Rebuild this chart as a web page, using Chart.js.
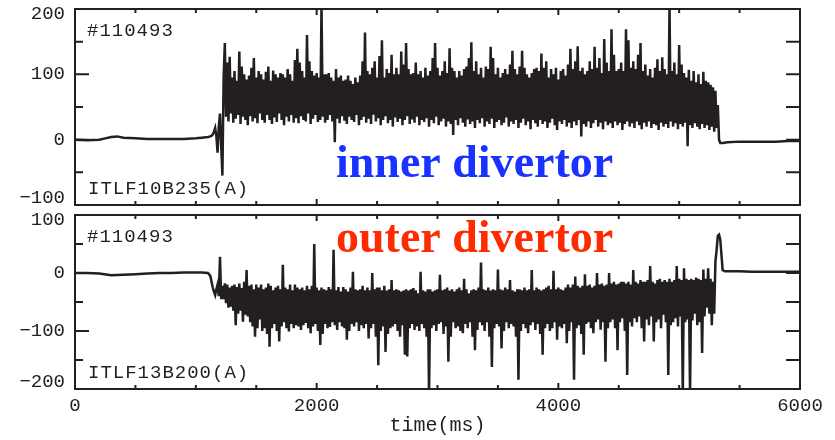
<!DOCTYPE html>
<html>
<head>
<meta charset="utf-8">
<script src="https://cdn.jsdelivr.net/npm/chart.js@4"></script>
<style>
  html, body { margin: 0; padding: 0; background: #fff; }
  #wrap { position: relative; width: 835px; height: 440px; overflow: hidden; }
  #wrap canvas { position: absolute; left: 0; }
</style>
</head>
<body>
<div id="wrap">
  <canvas id="inner" width="835" height="210" style="top:0"></canvas>
  <canvas id="outer" width="835" height="230" style="top:210px"></canvas>
</div>
<script>
// Shot #110493, divertor probe currents

const X_TICKS = [0, 2000, 4000, 6000];
const INNER_Y_TICKS = [200, 100, 0, -100];
const OUTER_Y_TICKS = [100, 0, -100, -200];

// quiet period before the discharge (ms, A)
const innerPreT = [0, 100, 200, 250, 300, 350, 400, 500, 600, 700, 800, 900, 1000, 1050, 1100];
const innerPreV = [0, -1, 0, 2, 4, 5, 3, 2, 1, 1, 1, 1, 2, 3, 4];

// sampled burst, 10 ms step from 1120 ms to 5340 ms
const BURST_START = 1120;
const BURST_STEP = 10;
const innerBurst = [
  5, 6, 8, 12, 18, 5, -20, 20, 40, -10, -55, 95,
  148, 35, 118, 28, 127, 40, 95, 26, 105, 32, 90, 38, 135, 24, 112, 35, 100, 30, 92, 22,
  98, 36, 110, 28, 125, 33, 95, 25, 105, 40, 100, 30, 92, 26, 104, 38, 112, 30, 90, 24,
  106, 34, 100, 27, 95, 40, 102, 30, 100, 22, 95, 35, 108, 28, 100, 38, 90, 26, 122, 33,
  139, 25, 118, 36, 105, 30, 95, 28, 160, 40, 120, 24, 105, 32, 98, 38, 102, 27, 95, 30,
  205, 35, 100, 26, 100, 30, 102, 38, 95, 28, 90, -4, 108, 32, 95, 25, 98, 36, 90, 29,
  92, 24, 98, 35, 90, 30, 85, 27, 95, 38, 88, 22, 98, 30, 120, 35, 164, 26, 105, 32,
  100, 24, 110, 38, 120, 28, 95, 33, 128, 22, 152, 30, 95, 36, 108, 25, 102, 30, 130, 20,
  100, 34, 110, 27, 100, 32, 135, 22, 115, 30, 148, 36, 108, 24, 100, 31, 102, 26, 118, 35,
  100, 22, 105, 30, 95, 27, 110, 33, 98, 20, 105, 30, 125, 25, 148, 35, 110, 22, 98, 28,
  105, 32, 120, 20, 102, 28, 140, 24, 110, 7, 105, 30, 95, 22, 105, 33, 98, 26, 108, 20,
  112, 31, 125, 24, 149, 28, 105, 18, 120, 30, 100, 25, 110, 33, 95, 20, 112, 28, 108, 24,
  142, 32, 125, 18, 100, 27, 110, 30, 95, 22, 102, 26, 108, 34, 100, 20, 115, 28, 136, 24,
  108, 30, 100, 18, 112, 26, 136, 32, 110, 22, 100, 28, 95, 16, 102, 30, 108, 25, 110, 20,
  105, 30, 132, 24, 110, 28, 120, 18, 95, 26, 108, 32, 100, 22, 110, 15, 92, 28, 105, 24,
  108, 30, 98, 20, 115, 26, 139, 18, 108, 28, 120, 22, 143, 30, 105, 5, 110, 24, 100, 20,
  105, 28, 120, 18, 108, 25, 142, 30, 110, 20, 125, 26, 102, 16, 154, 28, 118, 22, 105, 25,
  169, 18, 130, 28, 105, 22, 108, 26, 118, 15, 105, 24, 169, 28, 152, 20, 110, 25, 120, 18,
  108, 28, 130, 22, 148, 16, 105, 26, 115, 20, 98, 28, 108, 18, 95, 24, 110, 22, 123, 15,
  105, 26, 126, 20, 108, 24, 100, 18, 205, 28, 105, 20, 118, 25, 100, 16, 145, 24, 115, 20,
  102, 26, 95, -10, 107, 22, 90, 18, 105, 25, 88, 20, 100, 16, 85, 24, 104, 18, 90, 22,
  88, 15, 84, 20, 80, 12, 75, 18, 53, 0,
  -5
];

// after the discharge
const innerPostT = [5360, 5400, 5500, 5600, 5700, 5800, 5900, 6000];
const innerPostV = [-5, -4, -3, -3, -3, -3, -2, -2];

const outerPreT = [0, 100, 200, 300, 400, 500, 600, 700, 800, 900, 1000, 1050, 1100];
const outerPreV = [0, 0, -1, -4, -3, -2, -1, 0, 0, 1, 1, 1, 0];

const outerBurst = [
  -5, -15, -25, -32, -38, -28, -20, -40, 28, -45,
  -22, -45, -18, -52, -20, -60, -25, -58, -22, -65, -20, -90, -24, -70, -18, -65, -26, -84, -15, -72,
  5, -75, -22, -85, -20, -92, -28, -110, -20, -95, -25, -80, -20, -100, -28, -95, -25, -105, -18, -127,
  -22, -95, -30, -88, -25, -100, -22, -118, -28, -92, 14, -85, -25, -95, -28, -101, -20, -88, -30, -95,
  -20, -90, -25, -92, -28, -98, -25, -90, -30, -86, -22, -95, -28, -104, -22, -92, 50, -88, -25, -100,
  -30, -124, -25, -105, -28, -88, -30, -95, -24, -93, -28, -85, 40, -90, -30, -98, -24, -85, -32, -92,
  -24, -95, -28, -115, -32, -100, -25, -88, 2, -92, -28, -85, -30, -100, -28, -90, -22, -95, -30, -88,
  -25, -113, -30, -95, 0, -88, -28, -110, -25, -159, -25, -100, -30, -92, -22, -136, -30, -105, -28, -95,
  -12, -92, -30, -88, -28, -100, -30, -110, -32, -90, -30, -141, -28, -144, -30, -95, -28, -88, -26, -98,
  -30, -92, -35, -100, 2, -88, -30, -95, -32, -110, -28, -210, -28, -95, -32, -90, -30, -100, -28, -88,
  -3, -85, -30, -105, -28, -92, -25, -153, -30, -110, -28, -85, -32, -95, -28, -92, -25, -100, -30, -104,
  -10, -88, -28, -95, -35, -85, -30, -110, -28, -133, -30, -98, -25, -85, 18, -90, -28, -100, -30, -85,
  -25, -110, -30, -162, -28, -95, -30, -88, 6, -92, -28, -130, -30, -100, -25, -85, -28, -95, -12, -88,
  -30, -92, -32, -110, -28, -184, -28, -100, -30, -88, -25, -95, -30, -104, -28, -90, 5, -85, -30, -98,
  -25, -88, -28, -105, -30, -141, -28, -95, -25, -88, -22, -100, -28, -95, 4, -85, -28, -115, -25, -92,
  -28, -95, -30, -88, -25, -121, -20, -100, -25, -85, -20, -184, -6, -95, -22, -90, -25, -105, -22, -141,
  -2, -88, -22, -85, -20, -95, -25, -104, -22, -85, 0, -80, -20, -98, -18, -85, -22, -153, -20, -95,
  0, -85, -18, -80, -15, -95, -20, -133, -18, -85, -15, -78, -15, -100, -18, -176, -15, -85, -20, -92,
  5, -78, -15, -85, -18, -75, -12, -95, -15, -118, -15, -80, -12, -90, 12, -75, -15, -118, -18, -85,
  -12, -80, -10, -95, -15, -72, -12, -85, -15, -176, -10, -90, -15, -85, -12, -78, 12, -92, -10, -75,
  -12, -210, 8, -85, -10, -80, -12, -210, -10, -82, -12, -70, -8, -90, -10, -85, -12, -138, 6, -75,
  -10, -60, 8, -70, -10, -90, -15, -70, 20, 40, 64, 66,
  58
];

const outerPostT = [5360, 5380, 5400, 5500, 5600, 5700, 5800, 5900, 6000];
const outerPostV = [5, 3, 3, 3, 2, 2, 2, 2, 2];

const INK = "#231f20";
const MONO = "'Liberation Mono', 'DejaVu Sans Mono', monospace";

function toPoints(preT, preV, burst, postT, postV) {
  const pts = preT.map((t, i) => ({ x: t, y: preV[i] }));
  burst.forEach((v, i) => pts.push({ x: BURST_START + i * BURST_STEP, y: v }));
  postT.forEach((t, i) => pts.push({ x: t, y: postV[i] }));
  return pts;
}

// frame, inward ticks, y labels and notes
const framePlugin = {
  id: "frame",
  afterDraw(chart, args, opts) {
    const { ctx, chartArea: a, scales } = chart;
    const xs = scales.x;
    const ys = scales.y;
    ctx.save();
    ctx.strokeStyle = INK;
    ctx.lineWidth = 2;
    ctx.strokeRect(a.left, a.top, a.right - a.left, a.bottom - a.top);

    ctx.beginPath();
    for (let v = ys.min; v <= ys.max; v += 50) {
      const y = ys.getPixelForValue(v);
      const major = v % 100 === 0;
      ctx.moveTo(a.left, y);
      ctx.lineTo(a.left + (major ? 14 : 8), y);
      ctx.moveTo(a.right, y);
      ctx.lineTo(a.right - 14, y);
    }
    for (let t = xs.min; t <= xs.max; t += 500) {
      const x = xs.getPixelForValue(t);
      const len = t % 2000 === 0 ? 6 : 4;
      ctx.moveTo(x, a.bottom);
      ctx.lineTo(x, a.bottom - len);
      ctx.moveTo(x, a.top);
      ctx.lineTo(x, a.top + len);
    }
    ctx.stroke();

    ctx.fillStyle = INK;
    ctx.font = "19px " + MONO;
    ctx.textAlign = "right";
    ctx.textBaseline = "middle";
    opts.yTicks.forEach((v) => {
      let y = ys.getPixelForValue(v);
      y = Math.min(Math.max(y, a.top + 5), a.bottom - 7);
      ctx.fillText(String(v).replace("-", "\u2212"), a.left - 10, y);
    });

    ctx.textAlign = "left";
    ctx.textBaseline = "alphabetic";
    ctx.letterSpacing = "1px";
    ctx.fillText(opts.shot, a.left + 12, a.top + 27);
    ctx.fillText(opts.signal, a.left + 13, a.bottom - 11);
    ctx.letterSpacing = "0px";

    ctx.font = "bold 46px 'Liberation Serif', 'DejaVu Serif', serif";
    ctx.fillStyle = opts.noteColor;
    ctx.fillText(opts.note, 336, opts.noteY);
    ctx.restore();
  },
};

function makeChart(id, points, yMin, yMax, plotTop, xHeight, showX, pluginOpts) {
  return new Chart(document.getElementById(id), {
    type: "line",
    data: {
      datasets: [{
        data: points,
        borderColor: INK,
        borderWidth: 2.5,
        pointRadius: 0,
        tension: 0,
        fill: false,
      }],
    },
    options: {
      responsive: false,
      animation: false,
      parsing: false,
      normalized: true,
      layout: { padding: { top: plotTop, right: 35, left: 0, bottom: 0 } },
      plugins: { legend: { display: false }, tooltip: { enabled: false }, frame: pluginOpts },
      scales: {
        x: {
          type: "linear",
          min: 0,
          max: 6000,
          afterBuildTicks: (s) => { s.ticks = X_TICKS.map((v) => ({ value: v })); },
          grid: { display: false, drawTicks: false },
          border: { display: false },
          ticks: {
            display: showX,
            color: INK,
            padding: 6,
            maxRotation: 0,
            font: { family: MONO, size: 19 },
            callback: (v) => String(v),
          },
          title: {
            display: showX,
            text: "time(ms)",
            color: INK,
            padding: { top: 0, bottom: 2 },
            font: { family: MONO, size: 20 },
          },
          afterFit: (s) => { s.height = xHeight; },
        },
        y: {
          type: "linear",
          min: yMin,
          max: yMax,
          grid: { display: false, drawTicks: false },
          border: { display: false },
          ticks: { display: false, stepSize: 100 },
          afterFit: (s) => { s.width = 75; },
        },
      },
    },
    plugins: [framePlugin],
  });
}

makeChart("inner",
  toPoints(innerPreT, innerPreV, innerBurst, innerPostT, innerPostV),
  -100, 200, 9, 5, false,
  { yTicks: INNER_Y_TICKS, shot: "#110493", signal: "ITLF10B235(A)",
    note: "inner divertor", noteColor: "#1a32ff", noteY: 177 });

makeChart("outer",
  toPoints(outerPreT, outerPreV, outerBurst, outerPostT, outerPostV),
  -200, 100, 5, 51, true,
  { yTicks: OUTER_Y_TICKS, shot: "#110493", signal: "ITLF13B200(A)",
    note: "outer divertor", noteColor: "#ff2a00", noteY: 42 });
</script>
</body>
</html>
